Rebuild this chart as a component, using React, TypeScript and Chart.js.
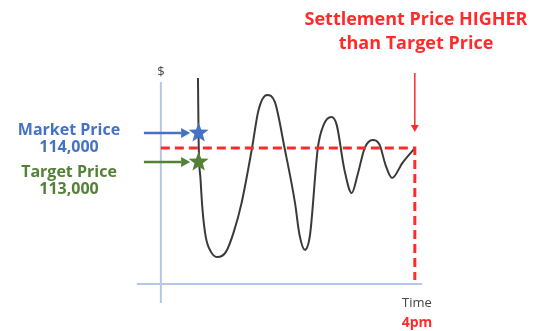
import React, { useEffect, useRef } from "react";
import { Chart, registerables } from "chart.js";

Chart.register(...registerables);

// Time in minutes since 9:30 open (0 = $ axis), 390 = 4pm close
const curveTimes = [57, 58, 61, 64, 69, 77, 87, 100, 112, 124, 140, 150, 163, 175, 190, 206, 213, 221, 229, 241, 250, 262, 270, 282, 293, 302, 313, 325, 336, 345, 355, 371, 390];
const curvePrices = [115900, 113760, 112380, 111350, 110410, 109900, 109720, 109900, 110590, 111590, 113480, 114790, 115310, 115070, 113480, 111590, 110480, 109970, 110480, 113480, 114280, 114550, 114280, 112720, 111930, 112550, 113480, 113760, 113590, 112900, 112450, 112970, 113480];

const marketPrice = 114000;
const targetPrice = 113000;
const settlementPrice = 113480;
const closeTime = 390;
const starTime = 58;
const arrowTimes = [-26, 45];

const axisTimeRange = [-37, 401];
const axisPriceRange = [108140, 115760];
const xAxisPrice = 108790;
const dashBottomPrice = 108930;
const settleArrowPrices = [116070, 114030];

const scaleTime = [-247, 573];
const scalePrice = [107172, 118586];

const titleLines = ["Settlement Price HIGHER", "than Target Price"];
const marketLabel = ["Market Price", "114,000"];
const targetLabel = ["Target Price", "113,000"];

const BLUE = "#4472c4";
const GREEN = "#538135";
const RED = "#ff2b2b";
const AXIS = "#b4c7e7";

function drawStar(ctx: CanvasRenderingContext2D, cx: number, cy: number, ro: number, ri: number, color: string) {
  ctx.save();
  ctx.beginPath();
  for (let i = 0; i < 10; i++) {
    const r = i % 2 === 0 ? ro : ri;
    const a = -Math.PI / 2 + (i * Math.PI) / 5;
    const px = cx + r * Math.cos(a);
    const py = cy + r * Math.sin(a);
    if (i === 0) ctx.moveTo(px, py);
    else ctx.lineTo(px, py);
  }
  ctx.closePath();
  ctx.fillStyle = color;
  ctx.fill();
  ctx.restore();
}

function drawArrow(ctx: CanvasRenderingContext2D, x1: number, y1: number, x2: number, y2: number, color: string, w: number, hl: number, hw: number) {
  const ang = Math.atan2(y2 - y1, x2 - x1);
  ctx.save();
  ctx.strokeStyle = color;
  ctx.fillStyle = color;
  ctx.lineWidth = w;
  ctx.beginPath();
  ctx.moveTo(x1, y1);
  ctx.lineTo(x2 - hl * Math.cos(ang), y2 - hl * Math.sin(ang));
  ctx.stroke();
  ctx.beginPath();
  ctx.moveTo(x2, y2);
  ctx.lineTo(x2 - hl * Math.cos(ang) - hw * Math.sin(ang), y2 - hl * Math.sin(ang) + hw * Math.cos(ang));
  ctx.lineTo(x2 - hl * Math.cos(ang) + hw * Math.sin(ang), y2 - hl * Math.sin(ang) - hw * Math.cos(ang));
  ctx.closePath();
  ctx.fill();
  ctx.restore();
}

const decorPlugin = {
  id: "decor",
  beforeDatasetsDraw(chart: any) {
    const ctx = chart.ctx as CanvasRenderingContext2D;
    const xs = chart.scales.x;
    const ys = chart.scales.y;
    ctx.save();
    ctx.strokeStyle = AXIS;
    ctx.lineWidth = 2;
    ctx.beginPath();
    const ax = xs.getPixelForValue(0);
    ctx.moveTo(ax, ys.getPixelForValue(axisPriceRange[1]));
    ctx.lineTo(ax, ys.getPixelForValue(axisPriceRange[0]));
    const ay = ys.getPixelForValue(xAxisPrice);
    ctx.moveTo(xs.getPixelForValue(axisTimeRange[0]), ay);
    ctx.lineTo(xs.getPixelForValue(axisTimeRange[1]), ay);
    ctx.stroke();
    ctx.restore();
  },
  afterDatasetsDraw(chart: any) {
    const ctx = chart.ctx as CanvasRenderingContext2D;
    const xs = chart.scales.x;
    const ys = chart.scales.y;
    const X = (v: number) => xs.getPixelForValue(v);
    const Y = (v: number) => ys.getPixelForValue(v);

    // arrows to stars
    drawArrow(ctx, X(arrowTimes[0]), Y(marketPrice), X(arrowTimes[1]), Y(marketPrice), BLUE, 2.5, 9, 5);
    drawArrow(ctx, X(arrowTimes[0]), Y(targetPrice), X(arrowTimes[1]), Y(targetPrice), GREEN, 2.5, 9, 5);
    drawStar(ctx, X(starTime), Y(marketPrice), 10.5, 4.4, BLUE);
    drawStar(ctx, X(starTime), Y(targetPrice), 10.5, 4.4, GREEN);

    // settlement arrow
    drawArrow(ctx, X(closeTime), Y(settleArrowPrices[0]), X(closeTime), Y(settleArrowPrices[1]), RED, 1.5, 7, 4);

    ctx.save();
    ctx.textAlign = "center";
    ctx.textBaseline = "middle";
    // title
    ctx.fillStyle = RED;
    ctx.font = "bold 18px 'Open Sans', sans-serif";
    ctx.fillText(titleLines[0], 416, 20);
    ctx.fillText(titleLines[1], 416, 44);
    // left labels
    ctx.font = "bold 16px 'Open Sans', sans-serif";
    ctx.fillStyle = BLUE;
    ctx.fillText(marketLabel[0], 69, 130);
    ctx.fillText(marketLabel[1], 69, 147);
    ctx.fillStyle = GREEN;
    ctx.fillText(targetLabel[0], 69, 172);
    ctx.fillText(targetLabel[1], 69, 189);
    // axis labels
    ctx.fillStyle = "#444";
    ctx.font = "13px 'Open Sans', sans-serif";
    ctx.fillText("$", X(0), 72);
    ctx.fillText("Time", 417, 303);
    ctx.fillStyle = RED;
    ctx.font = "bold 14px 'Open Sans', sans-serif";
    ctx.fillText("4pm", 417, 323);
    ctx.restore();
  },
};

export default function App() {
  const ref = useRef<HTMLCanvasElement | null>(null);
  useEffect(() => {
    if (!ref.current) return;
    const chart = new Chart(ref.current, {
      type: "line",
      data: {
        datasets: [
          {
            label: "Settlement",
            data: [
              { x: 0, y: settlementPrice },
              { x: closeTime, y: settlementPrice },
              { x: closeTime, y: dashBottomPrice },
            ],
            borderColor: RED,
            borderWidth: 3,
            borderDash: [9, 5],
            pointRadius: 0,
            tension: 0,
            order: 0,
          },
          {
            label: "Price",
            data: curveTimes.map((t, i) => ({ x: t, y: curvePrices[i] })),
            borderColor: "#3a3a3a",
            borderWidth: 2,
            pointRadius: 0,
            cubicInterpolationMode: "monotone",
            order: 1,
          },
        ],
      },
      options: {
        animation: false,
        responsive: false,
        layout: { padding: 0 },
        plugins: { legend: { display: false }, tooltip: { enabled: false } },
        scales: {
          x: { type: "linear", min: scaleTime[0], max: scaleTime[1], display: false },
          y: { type: "linear", min: scalePrice[0], max: scalePrice[1], display: false },
        },
      },
      plugins: [decorPlugin],
    });
    return () => chart.destroy();
  }, []);
  return (
    <div style={{ position: "absolute", left: 0, top: 0, width: 534, height: 331, background: "#fff" }}>
      <canvas ref={ref} width={534} height={331} />
    </div>
  );
}
